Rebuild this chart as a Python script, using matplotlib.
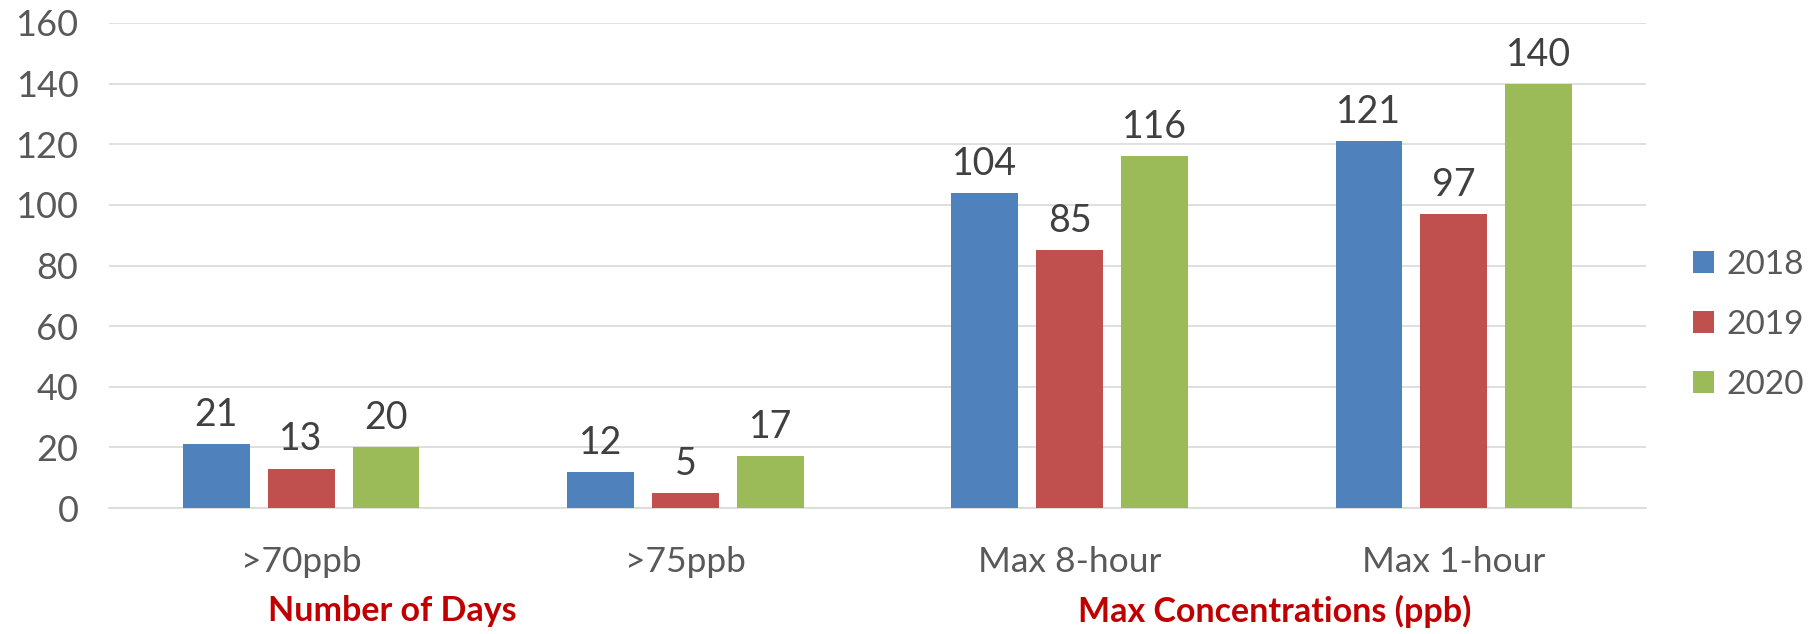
import matplotlib
matplotlib.use("Agg")
import matplotlib.pyplot as plt
import numpy as np
from matplotlib.patches import Patch

plt.rcParams['font.family'] = ['Lato', 'DejaVu Sans']

categories = ['>70ppb', '>75ppb', 'Max 8-hour', 'Max 1-hour']
years = ['2018', '2019', '2020']
values_2018 = [21, 12, 104, 121]
values_2019 = [13, 5, 85, 97]
values_2020 = [20, 17, 116, 140]
group_titles = ['Number of Days', 'Max Concentrations (ppb)']

colors = ['#4F81BD', '#C0504D', '#9BBB59']
tick_gray = '#595959'
label_gray = '#404040'
title_red = '#C00000'

fig = plt.figure(figsize=(18.18, 6.34), dpi=100)
ax = fig.add_axes([109 / 1818, 126 / 634, 1537 / 1818, 485 / 634])

x = np.arange(len(categories))
width = 0.174
step = 0.221
series = [values_2018, values_2019, values_2020]
for i, (vals, c) in enumerate(zip(series, colors)):
    bars = ax.bar(x + (i - 1) * step, vals, width, color=c, zorder=3)
    ax.bar_label(bars, labels=[str(v) for v in vals], padding=8,
                 fontsize=27, color=label_gray)

ax.set_xlim(-0.5, len(categories) - 0.5)
ax.set_ylim(0, 160)
ax.set_yticks(np.arange(0, 161, 20))
ax.set_xticks(x)
ax.set_xticklabels(categories)
ax.tick_params(axis='y', length=0, pad=22, labelsize=26, labelcolor=tick_gray)
ax.tick_params(axis='x', length=0, pad=27, labelsize=25.5, labelcolor=tick_gray)
ax.grid(axis='y', color='#D9D9D9', linewidth=1.2, zorder=0)
for side in ['top', 'right', 'left']:
    ax.spines[side].set_visible(False)
ax.spines['bottom'].set_color('#D9D9D9')
ax.spines['bottom'].set_linewidth(1.2)

handles = [Patch(facecolor=c, edgecolor='none') for c in colors]
fig.legend(handles, years, loc='center left',
           bbox_to_anchor=(1676 / 1818, 1 - 325 / 634), frameon=False,
           fontsize=24, labelcolor=tick_gray, handlelength=0.65,
           handleheight=0.65, handletextpad=0.35, labelspacing=0.9,
           borderpad=0)

fig.text(392 / 1818, 1 - 611 / 634, group_titles[0], ha='center', va='center',
         fontsize=24.5, fontweight='bold', color=title_red)
fig.text(1275 / 1818, 1 - 611 / 634, group_titles[1], ha='center', va='center',
         fontsize=24.5, fontweight='bold', color=title_red)

fig.savefig('out.png', dpi=100)
